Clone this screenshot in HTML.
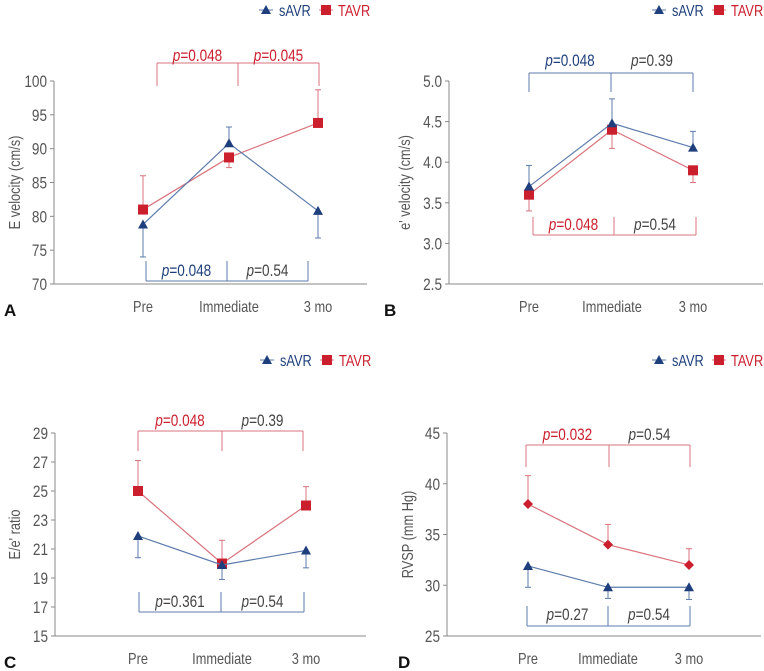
<!DOCTYPE html>
<html><head><meta charset="utf-8"><style>
html,body{margin:0;padding:0;background:#fff;}
svg{display:block;font-family:"Liberation Sans",sans-serif;}
</style></head><body>
<svg id="c" width="764" height="671" viewBox="0 0 764 671"></svg>
<script>
const categories = ["Pre","Immediate","3 mo"];
const aSavr = [78.8, 90.8, 80.8];
const aSavrErr = [-4.8, 2.4, -4.0];
const aTavr = [81.0, 88.7, 93.8];
const aTavrErr = [5.0, -1.5, 4.9];
const aTicks = [70,75,80,85,90,95,100];
const bSavr = [3.7, 4.48, 4.18];
const bSavrErr = [0.26, 0.3, 0.2];
const bTavr = [3.6, 4.4, 3.9];
const bTavrErr = [-0.2, -0.23, -0.15];
const bTicks = [2.5,3.0,3.5,4.0,4.5,5.0];
const cSavr = [21.9, 19.9, 20.9];
const cSavrErr = [-1.5, -1.0, -1.2];
const cTavr = [25.0, 20.0, 24.0];
const cTavrErr = [2.1, 1.6, 1.3];
const cTicks = [15,17,19,21,23,25,27,29];
const dSavr = [31.9, 29.8, 29.8];
const dSavrErr = [-2.1, -1.1, -1.2];
const dTavr = [38.0, 34.0, 32.0];
const dTavrErr = [2.8, 2.0, 1.6];
const dTicks = [25,30,35,40,45];
const aPvals = ["0.048","0.045","0.048","0.54"];
const bPvals = ["0.048","0.39","0.048","0.54"];
const cPvals = ["0.048","0.39","0.361","0.54"];
const dPvals = ["0.032","0.54","0.27","0.54"];

const NS="http://www.w3.org/2000/svg";
const svg=document.getElementById('c');
const BLUE="#1e3f7c", BLUEL="#5d7bab", RED="#cc1f2e", REDL="#d9737c", GRAY="#555", DARK="#444";
const SX=0.8;
function mk(tag,attrs,parent,text){const e=document.createElementNS(NS,tag);for(const k in attrs)e.setAttribute(k,attrs[k]);if(text!==undefined)e.textContent=text;(parent||svg).appendChild(e);return e;}
function txt(parent,x,y,attrs,text,rot){
 const a=Object.assign({},attrs);
 a.x=0;a.y=0;
 a.transform=`translate(${x},${y})`+(rot?` rotate(${rot})`:'')+` scale(${SX},1)`;
 return mk('text',a,parent,text);
}

const panels=[
 {id:"a",letter:"A",lx:4,ax:54,axEnd:367,yTop:81,yBot:284,catX:[143,229,318],catY:312,title:"E velocity (cm/s)",tx:15,ticks:aTicks,dec:0,savr:aSavr,se:aSavrErr,tavr:aTavr,te:aTavrErr,legY:10,legX:266,tavrMarker:"square",pv:aPvals,
  top:{y:63,endY:86,x:[157,238,319],ty:61,col:REDL,tcol:[RED,RED]}, bot:{y:281,startY:261,x:[146,227,308],ty:276,col:BLUEL,tcol:[BLUE,DARK]}},
 {id:"b",letter:"B",lx:384,ax:449,axEnd:763,yTop:81,yBot:284,catX:[529,612,693],catY:312,title:"e' velocity (cm/s)",tx:405,ticks:bTicks,dec:1,savr:bSavr,se:bSavrErr,tavr:bTavr,te:bTavrErr,legY:10,legX:659,tavrMarker:"square",pv:bPvals,
  top:{y:73,endY:92,x:[529,611,693],ty:66,col:BLUEL,tcol:[BLUE,DARK]}, bot:{y:235,startY:217,x:[533,614,696],ty:230,col:REDL,tcol:[RED,DARK]}},
 {id:"c",letter:"C",lx:4,ax:55,axEnd:366,yTop:433,yBot:636,catX:[138,222,306],catY:664,title:"E/e' ratio",tx:15,ticks:cTicks,dec:0,savr:cSavr,se:cSavrErr,tavr:cTavr,te:cTavrErr,legY:360,legX:267,tavrMarker:"square",pv:cPvals,
  top:{y:431,endY:451,x:[138,222,303],ty:426,col:REDL,tcol:[RED,DARK]}, bot:{y:612,startY:592,x:[139,221,304],ty:607,col:BLUEL,tcol:[DARK,DARK]}},
 {id:"d",letter:"D",lx:398,ax:447,axEnd:761,yTop:433,yBot:636,catX:[528,608,689],catY:664,title:"RVSP (mm Hg)",tx:408,ticks:dTicks,dec:0,savr:dSavr,se:dSavrErr,tavr:dTavr,te:dTavrErr,legY:360,legX:659,tavrMarker:"diamond",pv:dPvals,
  top:{y:445,endY:467,x:[526,609,690],ty:440,col:REDL,tcol:[RED,DARK]}, bot:{y:626,startY:606,x:[527,608,690],ty:620,col:BLUEL,tcol:[DARK,DARK]}}
];

function tri(g,x,y,c){mk('path',{d:`M${x},${y-5}L${x+5},${y+4}L${x-5},${y+4}Z`,fill:c},g);}
function sq(g,x,y,c){mk('rect',{x:x-5,y:y-5,width:10,height:10,fill:c},g);}
function dia(g,x,y,c){mk('path',{d:`M${x},${y-5}L${x+5},${y}L${x},${y+5}L${x-5},${y}Z`,fill:c},g);}

panels.forEach(p=>{
 const g=mk('g',{});
 
 
 const lo=p.ticks[0], hi=p.ticks[p.ticks.length-1];
 const Y=v=>p.yBot-(v-lo)/(hi-lo)*(p.yBot-p.yTop);
 const lg=mk('g',{},g);
 
 
 mk('line',{x1:p.legX-7,x2:p.legX+7,y1:p.legY,y2:p.legY,stroke:BLUEL,'stroke-width':1},lg);
 tri(lg,p.legX,p.legY,BLUE);
 txt(lg,p.legX+13,p.legY+6,{'font-size':16,fill:BLUE},"sAVR");
 mk('line',{x1:p.legX+53,x2:p.legX+67,y1:p.legY,y2:p.legY,stroke:REDL,'stroke-width':1},lg);
 sq(lg,p.legX+60,p.legY,RED);
 txt(lg,p.legX+72,p.legY+6,{'font-size':16,fill:RED},"TAVR");
 const ax=mk('g',{},g);
 
 
 mk('line',{x1:p.ax,x2:p.ax,y1:p.yTop,y2:p.yBot,stroke:"#888",'stroke-width':1},ax);
 mk('line',{x1:p.ax,x2:p.axEnd,y1:p.yBot,y2:p.yBot,stroke:"#888",'stroke-width':1},g);
 p.ticks.forEach(t=>{
  mk('line',{x1:p.ax-4,x2:p.ax,y1:Y(t),y2:Y(t),stroke:"#888"},ax);
  const tl=txt(ax,p.ax-7,Y(t)+6,{'font-size':17,fill:GRAY,'text-anchor':'end'},t.toFixed(p.dec));
  
  
 });
 const yt=txt(g,p.tx+5,(p.yTop+p.yBot)/2,{'font-size':16,fill:GRAY,'text-anchor':'middle'},p.title,-90);
 
 
 categories.forEach((c,i)=>{
  const t=txt(g,p.catX[i],p.catY,{'font-size':16,fill:GRAY,'text-anchor':'middle'},c);
  
  
 });
 const L=mk('text',{x:p.lx,y:p.catY+4,'font-size':17,'font-weight':'bold',fill:"#111"},g,p.letter);
 
 
 function bracket(b,isTop,pv0,pv1){
  const bg=mk('g',{},g);
  
  
  const ey=isTop?b.endY:b.startY;
  mk('line',{x1:b.x[0],x2:b.x[2],y1:b.y,y2:b.y,stroke:b.col},bg);
  b.x.forEach(x=>mk('line',{x1:x,x2:x,y1:b.y,y2:ey,stroke:b.col},bg));
  [pv0,pv1].forEach((v,i)=>{
   const t=txt(bg,(b.x[i]+b.x[i+1])/2,b.ty,{'font-size':17,fill:b.tcol[i],'text-anchor':'middle'});
   mk('tspan',{'font-style':'italic'},t,'p');
   mk('tspan',{},t,'='+v);
  });
 }
 bracket(p.top,true,p.pv[0],p.pv[1]);
 bracket(p.bot,false,p.pv[2],p.pv[3]);
 function series(vals,errs,col,lcol,marker,name){
  const sg=mk('g',{},g);
  
  
  vals.forEach((v,i)=>{
   const x=p.catX[i], y1=Y(v), y2=Y(v+errs[i]);
   mk('line',{x1:x,x2:x,y1:y1,y2:y2,stroke:lcol},sg);
   mk('line',{x1:x-3,x2:x+3,y1:y2,y2:y2,stroke:lcol},sg);
  });
  mk('polyline',{points:vals.map((v,i)=>p.catX[i]+','+Y(v)).join(' '),fill:'none',stroke:lcol,'stroke-width':1.2},sg);
  vals.forEach((v,i)=>{
   if(marker==='tri')tri(sg,p.catX[i],Y(v),col);
   else if(marker==='square')sq(sg,p.catX[i],Y(v),col);
   else dia(sg,p.catX[i],Y(v),col);
  });
 }
 series(p.tavr,p.te,RED,REDL,p.tavrMarker,'tavr-series');
 series(p.savr,p.se,BLUE,BLUEL,'tri','savr-series');
});
</script>
</body></html>
